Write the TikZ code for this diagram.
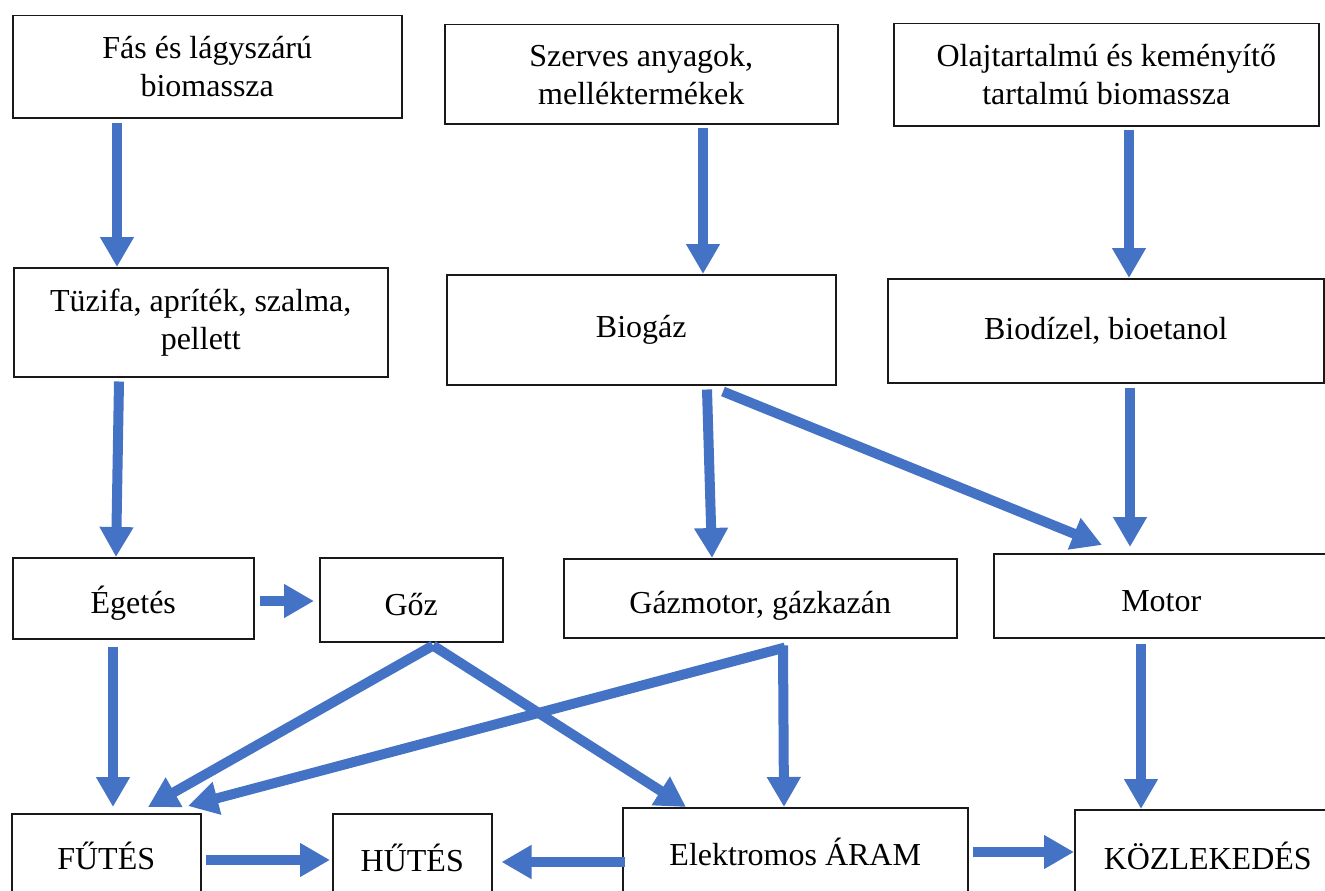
\documentclass[tikz,border=0pt]{standalone}
\usepackage{fontspec}
\setmainfont{Liberation Serif}
\usetikzlibrary{arrows.meta,calc}
\definecolor{arrblue}{HTML}{4472C4}
\begin{document}
\begin{tikzpicture}[x=1pt,y=-1pt,
  box/.style={draw=black!90,line width=1.5pt,anchor=north west,inner sep=0pt,align=center,
    font=\fontsize{32}{38}\selectfont},
  lowtext/.style={text height=31pt,text depth=0pt},
  arr/.style={draw=arrblue,line width=10pt,-{Triangle[width=32pt,length=30pt]}}]
\useasboundingbox (0,0) rectangle (1325,891);
\clip (0,0) rectangle (1325,891);
% row 1
\node[box,minimum width=389pt,minimum height=102pt] (fas) at (12,15) {Fás és lágyszárú\\biomassza};
\node[box,minimum width=393pt,minimum height=99pt] (szerves) at (444,24) {Szerves anyagok,\\melléktermékek};
\node[box,minimum width=425pt,minimum height=102pt] (olaj) at (893,23) {Olajtartalmú és keményítő\\tartalmú biomassza};
% row 2
\node[box,minimum width=374pt,minimum height=109pt] (tuzifa) at (13,267) {Tüzifa, apríték, szalma,\\pellett};
\node[box,minimum width=389pt,minimum height=110pt] (biogaz) at (446,274) {Biogáz};
\node[box,minimum width=436pt,minimum height=104pt] (biodizel) at (887,278) {Biodízel, bioetanol};
% row 3
\node[box,lowtext,minimum width=241pt,minimum height=81pt] (eget) at (12,557) {Égetés};
\node[box,lowtext,minimum width=183pt,minimum height=84pt] (goz) at (319,557) {Gőz};
\node[box,lowtext,minimum width=393pt,minimum height=79pt] (gazm) at (563,558) {Gázmotor, gázkazán};
\node[box,lowtext,minimum width=345pt,minimum height=84pt] (motor) at (993,553) {\hspace*{-10pt}Motor};
% row 4
\node[box,minimum width=189pt,minimum height=85pt] (futes) at (11,813) {FŰTÉS};
\node[box,minimum width=159pt,minimum height=88pt] (hutes) at (332,813) {HŰTÉS};
\node[box,minimum width=345pt,minimum height=88pt] (elek) at (622,807) {Elektromos ÁRAM};
\node[box,minimum width=266pt,minimum height=93pt] (kozl) at (1074,809) {KÖZLEKEDÉS};
% connectors
\draw[arr] ($(fas.south west)+(105,4)$) -- ($(tuzifa.north west)+(104,0)$);
\draw[arr] ($(szerves.south west)+(259,3)$) -- ($(biogaz.north west)+(257,0)$);
\draw[arr] ($(olaj.south west)+(236,3)$) -- ($(biodizel.north west)+(242,0)$);
\draw[arr] ($(tuzifa.south west)+(106,4)$) -- ($(eget.north west)+(104,0)$);
\draw[arr] ($(eget.north east)+(5,44)$) -- ($(goz.north west)+(-5,44)$);
\draw[arr] ($(eget.south west)+(101,7)$) -- ($(futes.north west)+(102,-6)$);
\draw[arr] ($(biogaz.south west)+(261,4)$) -- ($(gazm.north west)+(149,0)$);
\draw[arr] ($(biogaz.south west)+(277,6)$) -- ($(motor.north west)+(109,-8)$);
\draw[arr] ($(biodizel.south west)+(243,4)$) -- ($(motor.north west)+(137,-6)$);
\draw[arr] ($(goz.south west)+(114,3)$) -- ($(futes.north west)+(137,-6)$);
\draw[arr] ($(goz.south west)+(114,3)$) -- ($(elek.north west)+(64,0)$);
\draw[arr] ($(gazm.south west)+(222,9)$) -- ($(futes.north west)+(177,-7)$);
\draw[arr] ($(gazm.south west)+(220,7)$) -- ($(elek.north west)+(162,0)$);
\draw[arr] ($(motor.south west)+(148,5)$) -- ($(kozl.north west)+(67,0)$);
\draw[arr] ($(futes.north east)+(4,47)$) -- ($(hutes.north west)+(-2,47)$);
\draw[arr] ($(elek.north west)+(3,55)$) -- ($(hutes.north east)+(9,49)$);
\draw[arr] ($(elek.north east)+(4,45)$) -- ($(kozl.north west)+(0,43)$);
\end{tikzpicture}
\end{document}
